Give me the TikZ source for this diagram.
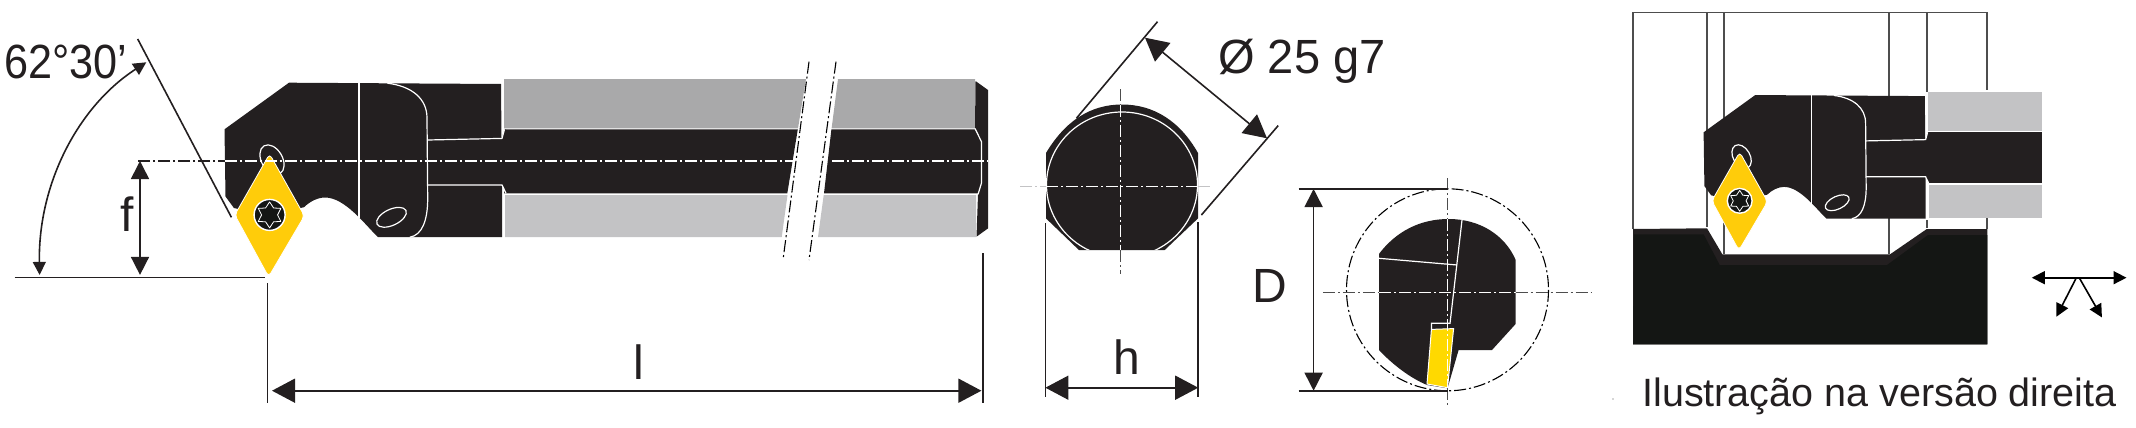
\documentclass[tikz,border=0pt]{standalone}
\usepackage[svgnames]{xcolor}
\usepackage{fontspec}
\setmainfont{Liberation Sans}
\usepackage{tikz}
\usetikzlibrary{arrows.meta}
\definecolor{tool_black}{HTML}{231F20}
\definecolor{base_black}{HTML}{141614}
\definecolor{insert_yellow}{HTML}{FFCC0A}
\definecolor{tip_yellow}{HTML}{FFD900}
\definecolor{bar_dark}{HTML}{A9A9AA}
\definecolor{bar_light}{HTML}{C3C3C5}
\definecolor{frame_gray}{HTML}{4D4D4D}
\tikzstyle{label} = [text=tool_black, inner sep=0pt, anchor=base]
\tikzstyle{edge_line} = [draw=tool_black, line width=0.8pt]
\tikzstyle{frame_line} = [draw=frame_gray, line width=0.8pt]
\tikzstyle{white_line} = [draw=white, line width=0.6pt]
\tikzstyle{center_line} = [line width=0.55pt, dash pattern=on 6pt off 1.5pt on 1pt off 1.5pt]
\tikzset{
  dim_small/.style ={edge_line, {Triangle[length=6.5pt,width=6.5pt]}-{Triangle[length=6.5pt,width=6.5pt]}},
  dim_mid/.style ={edge_line, {Triangle[length=9pt,width=9pt]}-{Triangle[length=9pt,width=9pt]}},
  dim_big/.style ={edge_line, {Triangle[length=11.5pt,width=12pt]}-{Triangle[length=11.5pt,width=12pt]}}
}
% head of the tool with its insert, in the coordinates of the large view
\newcommand{\toolhead}{
   \fill [tool_black] (224.5,129.3) -- (289,82.7) -- (501,84) -- (501.5,138.4) -- (504.5,129.3) -- (506,129.3)
      -- (506,193.3) -- (502,184.9) -- (502,237.2) -- (378,237.2) .. controls (365,224.6) and (345,197.5) .. (325,197.5)
      .. controls (318,197.5) and (310,201.3) .. (304,207.2) -- (269,214.9) -- (234,208.1) -- (225.5,196.5) -- cycle;
   \draw [white_line] (359,82.7) -- (359,218.4);
   \draw [white_line] (387.4,83.2) .. controls (412,86.2) and (427,98.7) .. (427,118) -- (427.7,198.4)
      .. controls (427.7,220.7) and (422,235.2) .. (409.8,237.2);
   \draw [white_line] (427.7,140) -- (502,138.4) -- (504.5,129.3);
   \draw [white_line] (427.7,184.9) -- (502,184.9) -- (506,193.3);
   \draw [white_line] (272,159.7) ellipse [x radius=16, y radius=10.5, rotate=-60];
   \draw [white_line] (391.5,217.3) ellipse [x radius=16, y radius=8, rotate=25];
   \filldraw [fill=insert_yellow, draw=white, line width=0.4pt, rounded corners=2pt]
      (269.6,153.9) -- (304.4,215.9) -- (268.6,276.8) -- (234.8,214.9) -- cycle;
   \begin{scope}[shift={(269.6,214.9)}]
      \filldraw [fill=base_black, draw=white, line width=0.7pt] (0,0) circle [radius=15.5];
      \filldraw [fill=base_black, draw=white, line width=0.4pt, line join=round]
         (90:13) \foreach \n in {1,...,11} { -- ({90+\n*30}:{13-5*mod(\n,2)}) } -- cycle;
   \end{scope}
}
\begin{document}
\begin{tikzpicture}[x=0.5pt, y=-0.5pt]
   \useasboundingbox (0,0) rectangle (2136,428);
   % large view
   \fill [bar_dark] (504,79) -- (806,79) -- (798,128.4) -- (504,128.4) -- cycle;
   \fill [bar_dark] (838,79) -- (975,79) -- (975,128.4) -- (831.6,128.4) -- cycle;
   \fill [bar_light] (505,195) -- (787.5,195) -- (781.7,237.2) -- (505,237.2) -- cycle;
   \fill [bar_light] (823.7,195) -- (976,195) -- (976,237.2) -- (818,237.2) -- cycle;
   \fill [tool_black] (504,129.3) -- (797.8,129.3) -- (787.3,193.3) -- (504,193.3) -- cycle;
   \fill [tool_black] (831.4,129.3) -- (975,129.3) -- (981.4,141.6) -- (981.4,183.3) -- (978,193.3) -- (824,193.3) -- cycle;
   \fill [tool_black] (975.5,81) -- (988,90) -- (988,228.4) -- (976.5,236.7) -- (978,194.4) -- (981.4,183.3) -- (981.4,141.6) -- (975,128.4) -- cycle;
   \draw [white_line] (975,128.4) -- (981.4,141.6) -- (981.4,183.3) -- (978,194.4);
   \toolhead
   \draw [center_line, draw=black] (809,61.7) -- (783,260);
   \draw [center_line, draw=black] (836,61.7) -- (809,260);
   \draw [center_line, draw=tool_black] (138,161) -- (224.5,161);
   \draw [center_line, draw=white] (224.5,161) -- (792.7,161);
   \draw [center_line, draw=white] (832,161) -- (988,161);
   % dimensions of the large view
   \draw [edge_line] (137.7,39) -- (231.4,217.3);
   \draw [edge_line] (14.5,277.6) -- (265,277.6);
   \draw [edge_line] (267.6,283.3) -- (267.6,403.4);
   \draw [edge_line] (983,253.3) -- (983,403.4);
   \draw [dim_small, {Triangle[length=6.5pt,width=6.5pt]}-{Triangle[length=6.5pt,width=6.5pt]}]
      (39.6,274.9) .. controls (38,184) and (78,106.5) .. (146.3,62.3);
   \draw [dim_mid] (140,161) -- (140,274.9);
   \draw [dim_big] (272,390.7) -- (981.4,390.7);
   \node [label, xscale=0.9] (angle_label) at (66,78.4) {\fontsize{24}{24}\selectfont 62°30’};
   \node [label] (f_label) at (127.4,231.7) {\fontsize{24}{24}\selectfont f};
   \node [label] (l_label) at (639,379) {\fontsize{24}{24}\selectfont l};
   % shank section
   \fill [tool_black] (1046,153) .. controls (1065,121.3) and (1090,104.5) .. (1122,104.5)
      .. controls (1154,104.5) and (1180,121.3) .. (1198,153) -- (1198,218.4) -- (1164.6,250.1) -- (1079,250.1) -- (1046,218.4) -- cycle;
   \begin{scope}
      \clip (1040,104) rectangle (1204,249.7);
      \draw [white_line] (1122,184.8) ellipse [x radius=75.5, y radius=72.8];
   \end{scope}
   \draw [center_line, draw=bar_light] (1020,186.7) -- (1046,186.7);
   \draw [center_line, draw=white] (1046,186.7) -- (1198,186.7);
   \draw [center_line, draw=bar_light] (1198,186.7) -- (1213,186.7);
   \draw [center_line, draw=frame_gray] (1120.7,89.3) -- (1120.7,104.5);
   \draw [center_line, draw=white] (1120.7,104.5) -- (1120.7,250.1);
   \draw [center_line, draw=frame_gray] (1120.7,250.1) -- (1120.7,273.5);
   \draw [edge_line] (1157.5,21.7) -- (1076.4,118.3);
   \draw [edge_line] (1278.2,125.6) -- (1201.4,215);
   \draw [edge_line] (1045.4,223) -- (1045.4,396.7);
   \draw [edge_line] (1198.2,222) -- (1198.2,396.7);
   \draw [dim_big] (1145,37.7) -- (1267,138.3);
   \draw [dim_big] (1045.4,387.7) -- (1198.2,387.7);
   \node [label, xscale=0.98] (diameter_label) at (1302,73.4) {\fontsize{24}{24}\selectfont Ø 25 g7};
   \node [label] (h_label) at (1126.4,374) {\fontsize{24}{24}\selectfont h};
   % front view of the bore
   \fill [tool_black] (1379,253.9) .. controls (1396,231.5) and (1420,219) .. (1448.6,219)
      .. controls (1480,219) and (1505,235.2) .. (1515.7,260) -- (1515.7,323.9) -- (1492,350) -- (1458.6,350)
      -- (1447.5,388.3) -- (1427,385) .. controls (1410,378) and (1392,364) .. (1379,350) -- cycle;
   \draw [center_line, draw=black] (1447.5,289.8) circle [radius=101];
   \draw [white_line] (1462,220) -- (1450,323.3) -- (1431.4,323.3) -- (1431.4,329.4);
   \draw [white_line] (1379,258.3) -- (1457,265);
   \filldraw [fill=tip_yellow, draw=white, line width=0.5pt] (1431.4,329.4) -- (1453.6,328.6) -- (1447.5,387.7) -- (1427,384) -- cycle;
   \draw [center_line, draw=frame_gray] (1322.9,292.1) -- (1379,292.1);
   \draw [center_line, draw=white] (1379,292.1) -- (1515.7,292.1);
   \draw [center_line, draw=frame_gray] (1515.7,292.1) -- (1592,292.1);
   \draw [center_line, draw=frame_gray] (1447.9,178.3) -- (1447.9,219);
   \draw [center_line, draw=white] (1447.9,219) -- (1447.9,388.3);
   \draw [center_line, draw=frame_gray] (1447.9,388.3) -- (1447.9,406);
   \draw [edge_line] (1298.6,189) -- (1447.5,189);
   \draw [edge_line] (1298.6,390.7) -- (1447.5,390.7);
   \draw [dim_mid] (1313.6,189) -- (1313.6,390.7);
   \node [label] (d_label) at (1270,302.4) {\fontsize{24}{24}\selectfont D};
   % right hand illustration
   \draw [frame_line] (1633.2,229.1) -- (1633.2,12.3) -- (1987,12.3) -- (1987,89.7);
   \draw [frame_line] (1987,218.4) -- (1987,229.1);
   \draw [frame_line] (1707,12.3) -- (1707,226.7);
   \draw [frame_line] (1723.8,12.3) -- (1723.8,253.5);
   \draw [frame_line] (1889,12.3) -- (1889,253.5);
   \draw [frame_line] (1926.8,12.3) -- (1926.8,91.7);
   \draw [frame_line] (1926.8,220) -- (1926.8,228.2);
   \fill [tool_black] (1633.2,229) -- (1707,228.3) -- (1722.4,254.4) -- (1889.9,254.4) -- (1926.8,229) -- (1987.4,229)
      -- (1987.4,344.4) -- (1633.2,344.4) -- cycle;
   \fill [base_black] (1634,234.3) -- (1703.6,234.3) -- (1719.7,265) -- (1887,265) -- (1928,235) -- (1987.4,235)
      -- (1987.4,344.4) -- (1633.2,344.4) -- cycle;
   \fill [bar_light] (1927.5,92.3) rectangle (2042,130.7);
   \fill [bar_light] (1929,185) rectangle (2042,218.4);
   \fill [tool_black] (1927.5,132.3) rectangle (2042,183.3);
   \begin{scope}[shift={(1524,28.9)}, scale=0.8]
      \toolhead
   \end{scope}
   \draw [dim_small, draw=black] (2031.8,277.7) -- (2126.5,277.7);
   \draw [edge_line, draw=black, -{Triangle[length=6.5pt,width=6.5pt]}] (2076,278.4) -- (2056.4,316.7);
   \draw [edge_line, draw=black, -{Triangle[length=6.5pt,width=6.5pt]}] (2079.6,278.4) -- (2101.9,317.4);
   \fill [frame_gray] (1613,399) circle [radius=0.7];
   \node [label] (version_label) at (1879.5,406) {\fontsize{19.75}{19.75}\selectfont Ilustração na versão direita};
\end{tikzpicture}
\end{document}
